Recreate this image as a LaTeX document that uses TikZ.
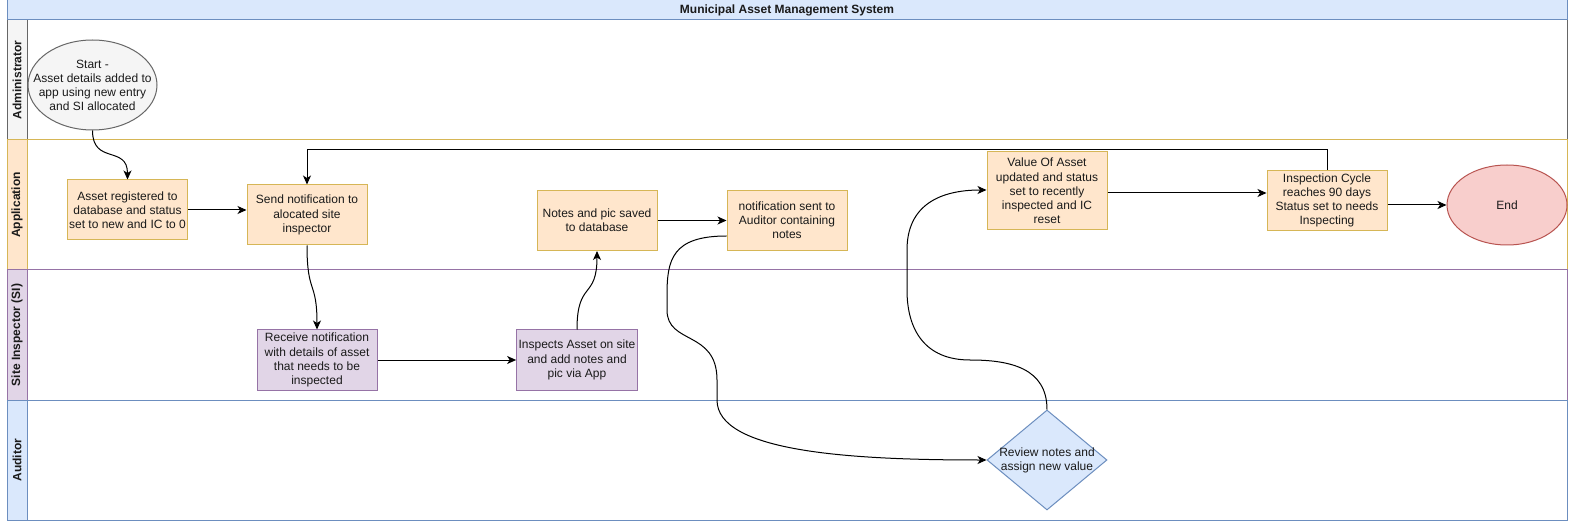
\documentclass[tikz,border=0pt]{standalone}
\usepackage{fontspec}
\setmainfont{Liberation Sans}
\usetikzlibrary{arrows.meta,shapes.geometric}
\definecolor{titlefill}{HTML}{DAE8FC}
\definecolor{titledraw}{HTML}{6C8EBF}
\definecolor{admfill}{HTML}{F5F5F5}
\definecolor{admdraw}{HTML}{666666}
\definecolor{appfill}{HTML}{FFE6CC}
\definecolor{appdraw}{HTML}{D6B656}
\definecolor{sifill}{HTML}{E1D5E7}
\definecolor{sidraw}{HTML}{9673A6}
\definecolor{endfill}{HTML}{F8CECC}
\definecolor{enddraw}{HTML}{B85450}
\definecolor{txt}{HTML}{1A1A1A}
\tikzset{
  every node/.style={font=\fontsize{12}{14.2}\selectfont, text=txt},
  lanelabel/.style={rotate=90, font=\bfseries\fontsize{12}{14}\selectfont},
  appbox/.style={draw=appdraw, fill=appfill, line width=1pt, minimum width=120pt, minimum height=60pt, align=center, inner sep=2pt},
  sibox/.style={draw=sidraw, fill=sifill, line width=1pt, minimum width=120pt, minimum height=60pt, align=center, inner sep=2pt},
  flow/.style={line width=1pt, draw=black, -{Stealth[length=9pt,width=8pt,inset=2.5pt]}},
}
\begin{document}
\begin{tikzpicture}[x=1pt,y=-1pt]
\useasboundingbox (0,0) rectangle (1569,529);
% lanes
\draw[fill=white, draw=admdraw, line width=1pt] (7,20) rectangle (1567,140);
\draw[fill=admfill, draw=admdraw, line width=1pt] (7,20) rectangle (27,140);
\draw[fill=white, draw=appdraw, line width=1pt] (7,140) rectangle (1567,270);
\draw[fill=appfill, draw=appdraw, line width=1pt] (7,140) rectangle (27,270);
\draw[fill=white, draw=sidraw, line width=1pt] (7,270) rectangle (1567,400);
\draw[fill=sifill, draw=sidraw, line width=1pt] (7,270) rectangle (27,400);
\draw[fill=white, draw=titledraw, line width=1pt] (7,400) rectangle (1567,520);
\draw[fill=titlefill, draw=titledraw, line width=1pt] (7,400) rectangle (27,520);
\draw[fill=titlefill, draw=titledraw, line width=1pt] (7,0) rectangle (1567,20);
\node[font=\bfseries\fontsize{12}{14}\selectfont] (title) at (787,10) {Municipal Asset Management System};
\node[lanelabel] (ladm) at (17,80) {Administrator};
\node[lanelabel] (lapp) at (17,205) {Application};
\node[lanelabel] (lsi) at (17,335) {Site Inspector (SI)};
\node[lanelabel] (laud) at (17,460) {Auditor};
% nodes
\node[ellipse, draw=admdraw, fill=admfill, line width=1pt, minimum width=129pt, minimum height=90pt, inner sep=0pt] (start) at (92.5,85) {};
\node[align=center] (startt) at (92.5,85.5) {Start -\\Asset details added to\\app using new entry\\and SI allocated};
\node[appbox] (reg) at (127.5,210) {Asset registered to\\database and status\\set to new and IC to 0};
\node[appbox] (send) at (307,215) {Send notification to\\alocated site\\inspector};
\node[sibox] (recv) at (317,360) {Receive notification\\with details of asset\\that needs to be\\inspected};
\node[sibox] (insp) at (577,360) {Inspects Asset on site\\and add notes and\\pic via App};
\node[appbox] (notes) at (597,220.5) {Notes and pic saved\\to database};
\node[appbox] (naud) at (787,220.5) {notification sent to\\Auditor containing\\notes};
\node[appbox, minimum height=78pt] (val) at (1047,191) {Value Of Asset\\updated and status\\set to recently\\inspected and IC\\reset};
\node[diamond, draw=titledraw, fill=titlefill, line width=1pt, minimum width=120pt, minimum height=100pt, inner sep=0pt] (rev) at (1047,460) {};
\node[align=center] (revt) at (1047,460) {Review notes and\\assign new value};
\node[appbox] (cyc) at (1327,200.5) {Inspection Cycle\\reaches 90 days\\Status set to needs\\Inspecting};
\node[ellipse, draw=enddraw, fill=endfill, line width=1pt, minimum width=120pt, minimum height=80pt] (end) at (1507,205) {End};
% connectors
\draw[flow] (start.south) .. controls (92.5,165) and (127.5,145) .. (reg.north);
\draw[flow] (reg.east |- 0,210) -- (send.west |- 0,210);
\draw[flow] (send.south) .. controls (307,295) and (317,280) .. (recv.north);
\draw[flow] (recv.east) -- (insp.west);
\draw[flow] (insp.north) .. controls (577,280) and (597,300) .. (notes.south);
\draw[flow] (notes.east) -- (naud.west);
\draw[flow] (naud.west |- 0,236) .. controls (672,236) and (667,260) .. (667,295) -- (667,310) .. controls (667,345) and (717,330) .. (717,380) -- (717,400) .. controls (717,452) and (850,460) .. (rev.west);
\draw[flow] (rev.north) .. controls (1047,368) and (1010,360) .. (970,360) .. controls (925,360) and (907,330) .. (907,290) -- (907,250) .. controls (907,205) and (940,190) .. (val.west |- 0,190);
\draw[flow] (val.east |- 0,193) -- (cyc.west |- 0,193);
\draw[flow] (cyc.north) |- (307,150) -- (send.north);
\draw[flow] (cyc.east |- 0,205) -- (end.west);
\end{tikzpicture}
\end{document}
